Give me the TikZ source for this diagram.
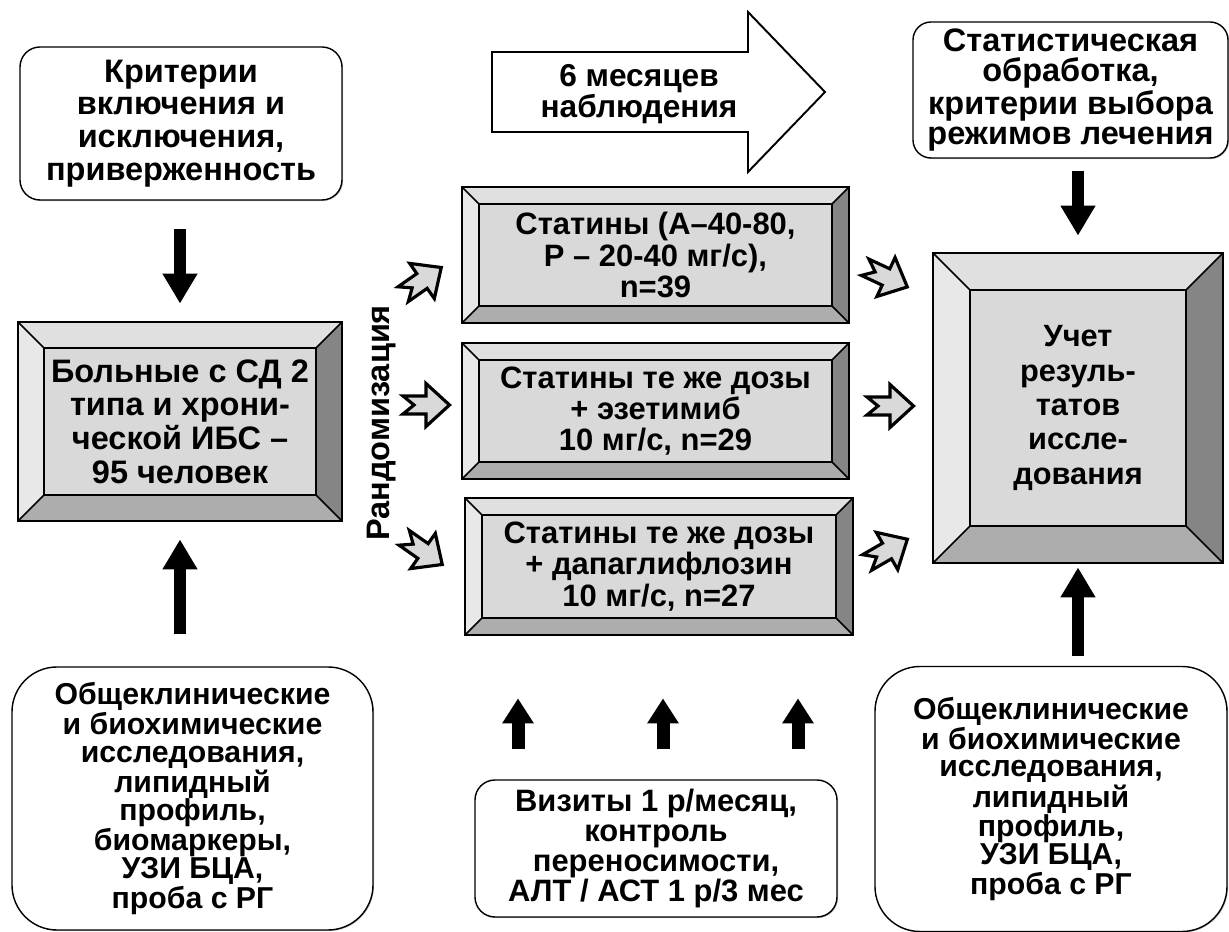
\documentclass[tikz,border=0pt]{standalone}
\usepackage{fontspec}
\setmainfont{Liberation Sans}
\usetikzlibrary{arrows.meta,calc,shadows}

\definecolor{bvface}{gray}{0.85}
\definecolor{bvtop}{gray}{0.88}
\definecolor{bvleft}{gray}{0.91}
\definecolor{bvright}{gray}{0.52}
\definecolor{bvbottom}{gray}{0.68}
\definecolor{notchfill}{gray}{0.85}

\newlength\bvw
\tikzset{
  txt/.style n args={2}{font=\bfseries\fontsize{#1}{#2}\selectfont, align=center},
  roundbox/.style={draw, line width=0.8pt, fill=white, rounded corners=#1, inner sep=0pt,
    drop shadow={shadow xshift=0.6pt, shadow yshift=-0.6pt, opacity=0.45}},
  bevel/.code={\setlength\bvw{#1}},
  bevelbox/.style={draw, line width=1.6pt, fill=bvface, inner sep=0pt,
    path picture={
      \coordinate (bNW) at (path picture bounding box.north west);
      \coordinate (bNE) at (path picture bounding box.north east);
      \coordinate (bSE) at (path picture bounding box.south east);
      \coordinate (bSW) at (path picture bounding box.south west);
      \fill[bvtop] (bNW) -- (bNE) -- ($(bNE)+(-\bvw,-\bvw)$) -- ($(bNW)+(\bvw,-\bvw)$) -- cycle;
      \fill[bvleft] (bNW) -- ($(bNW)+(\bvw,-\bvw)$) -- ($(bSW)+(\bvw,\bvw)$) -- (bSW) -- cycle;
      \fill[bvright] (bNE) -- (bSE) -- ($(bSE)+(-\bvw,\bvw)$) -- ($(bNE)+(-\bvw,-\bvw)$) -- cycle;
      \fill[bvbottom] (bSW) -- (bSE) -- ($(bSE)+(-\bvw,\bvw)$) -- ($(bSW)+(\bvw,\bvw)$) -- cycle;
      \draw[line width=0.9pt] ($(bNW)+(\bvw,-\bvw)$) rectangle ($(bSE)+(-\bvw,\bvw)$);
      \draw[line width=0.9pt] (bNW) -- ++(\bvw,-\bvw) (bNE) -- ++(-\bvw,-\bvw)
        (bSE) -- ++(-\bvw,\bvw) (bSW) -- ++(\bvw,\bvw);
    }},
  fatarrow/.style={line width=0.24cm, -{Triangle[width=0.66cm,length=0.6cm]}},
  fatarrowsmall/.style={line width=0.26cm, -{Triangle[width=0.6cm,length=0.5cm]}},
  notchpath/.style={draw, line width=1.8pt, fill=notchfill, line join=miter},
  notcharrow/.pic={\path[notchpath] (-0.46,0.18) -- (0,0.18) -- (0,0.43) -- (0.47,0)
    -- (0,-0.43) -- (0,-0.18) -- (-0.46,-0.18) -- (-0.24,0) -- cycle;}
}

\begin{document}
\begin{tikzpicture}
\useasboundingbox (0,0) rectangle (24.58,18.64);

\node[roundbox=0.4cm, minimum width=6.44cm, minimum height=3.06cm, txt={18.5}{18.7}] (crit) at (3.62,16.17) {Критерии\\включения и\\исключения,\\приверженность};
\node[bevelbox, bevel=0.52cm, minimum width=6.48cm, minimum height=3.98cm, txt={18.5}{19.2}] (pat) at (3.60,10.21) {Больные с СД 2\\типа и хрони-\\ческой ИБС –\\95 человек};
\node[roundbox=0.9cm, minimum width=7.22cm, minimum height=5.26cm, txt={17.2}{16}] (examL) at (3.85,2.67) {Общеклинические\\и биохимические\\исследования,\\липидный\\профиль,\\биомаркеры,\\УЗИ БЦА,\\проба с РГ};

\node[txt={18.5}{20}, rotate=90] (rand) at (7.64,10.18) {Рандомизация};

\draw[line width=1.1pt, fill=white] (9.84,16.00) -- (14.96,16.00) -- (14.96,15.20) -- (16.50,16.80) -- (14.96,18.40) -- (14.96,17.60) -- (9.84,17.60) -- cycle;
\node[txt={18}{18}] (months) at (12.78,16.76) {6 месяцев\\наблюдения};

\node[bevelbox, bevel=0.34cm, minimum width=7.74cm, minimum height=2.72cm, txt={17.6}{17.8}] (grpA) at (13.11,13.54) {Статины (А–40-80,\\Р – 20-40 мг/с),\\n=39};
\node[bevelbox, bevel=0.34cm, minimum width=7.74cm, minimum height=2.72cm, txt={17.6}{17.8}] (grpB) at (13.11,10.42) {Статины те же дозы\\+ эзетимиб\\10 мг/с, n=29};
\node[bevelbox, bevel=0.34cm, minimum width=7.76cm, minimum height=2.74cm, txt={17.6}{17.8}] (grpC) at (13.18,7.31) {Статины те же дозы\\+ дапаглифлозин\\10 мг/с, n=27};

\node[bevelbox, bevel=0.74cm, minimum width=5.80cm, minimum height=6.20cm, txt={17.5}{19.6}] (res) at (21.56,10.48) {Учет\\резуль-\\татов\\иссле-\\дования};
\node[roundbox=0.36cm, minimum width=6.30cm, minimum height=2.72cm, txt={18.5}{17}] (stat) at (21.41,16.84) {Статистическая\\обработка,\\критерии выбора\\режимов лечения};
\node[roundbox=0.9cm, minimum width=7.04cm, minimum height=5.30cm, txt={17.2}{15.8}] (examR) at (21.02,2.66) {Общеклинические\\и биохимические\\исследования,\\липидный\\профиль,\\УЗИ БЦА,\\проба с РГ};

\node[roundbox=0.4cm, minimum width=7.24cm, minimum height=2.74cm, txt={17.6}{17.2}] (visit) at (13.12,1.67) {Визиты 1 р/месяц,\\контроль\\переносимости,\\АЛТ / АСТ 1 р/3 мес};

\draw[fatarrow, shorten <=0.56cm, shorten >=0.34cm] (crit.south -| pat.north) -- (pat.north);
\draw[fatarrow, shorten <=0.64cm, shorten >=0.34cm] (examL.north -| pat.south) -- (pat.south);
\draw[fatarrow, shorten <=0.24cm, shorten >=0.32cm] (stat.south -| res.north) -- (res.north);
\draw[fatarrow, shorten <=0.2cm, shorten >=0.06cm] (examR.north -| res.south) -- (res.south);
\foreach \dx in {-2.76,0.14,2.84}
  \draw[fatarrowsmall, shorten <=0.6cm, shorten >=1.24cm] ($(visit.north)+(\dx,0)$) -- ($(visit.north |- grpC.south)+(\dx,0)$);

\foreach \x/\y/\a in {8.44/13.02/35, 8.52/10.54/0, 8.46/7.62/-35, 17.72/13.10/-25, 17.80/10.52/0, 17.74/7.62/30}
  \pic[rotate=\a] at (\x,\y) {notcharrow};

\end{tikzpicture}
\end{document}
